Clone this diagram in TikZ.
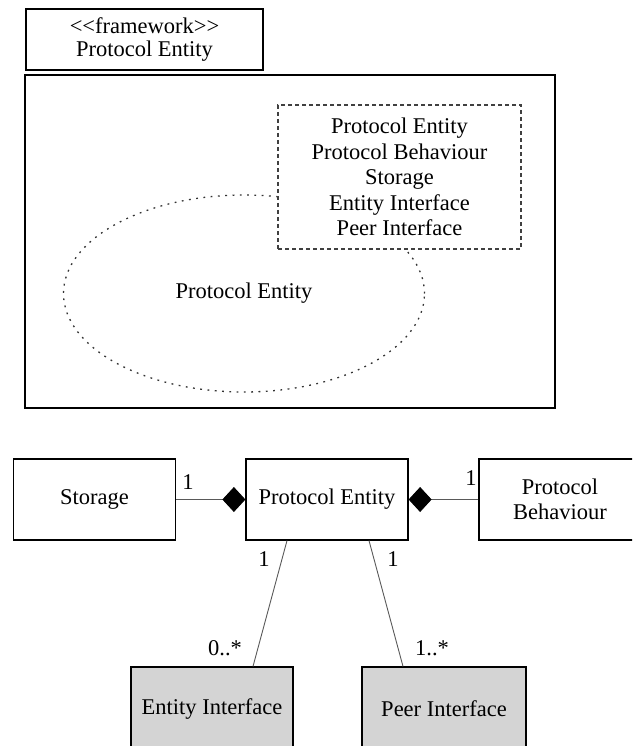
\documentclass[tikz,border=0pt]{standalone}
\usepackage{fontspec}
\setmainfont{Liberation Serif}
\usetikzlibrary{shapes.geometric,arrows.meta}
\tikzset{
  box/.style={draw,line width=1.2pt,minimum width=162pt,minimum height=81pt,align=center,inner sep=2pt},
  ifbox/.style={box,fill=black!17,minimum height=84pt},
  link/.style={draw=black!65,line width=0.9pt},
  comp/.style={link,-{Diamond[length=23pt,width=25pt,black]}},
  mult/.style={inner sep=0pt}
}
\begin{document}
\begin{tikzpicture}[x=1pt,y=-1pt,font=\fontsize{22.5}{25.5}\selectfont]
\clip (0,0) rectangle (632,746);
\node[draw,line width=2pt,minimum width=237pt,minimum height=61pt,align=center,font=\fontsize{22.5}{23}\selectfont] (title) at (144.5,39.5) {\textless\kern0pt\textless\kern0pt framework\kern0pt\textgreater\kern0pt\textgreater\\Protocol Entity};
\node[draw,line width=1.5pt,minimum width=530pt,minimum height=333pt] (frame) at (290,241.5) {};
\node[draw=black!80,ellipse,dash pattern=on 1.8pt off 5.5pt,line width=1.3pt,minimum width=361pt,minimum height=197pt] (pe) at (244,293.5) {Protocol Entity};
\node[draw=black!75,dash pattern=on 4pt off 3pt,line width=1.2pt,fill=white,minimum width=243pt,minimum height=144pt,align=center] (parts) at (399.5,177) {Protocol Entity\\Protocol Behaviour\\Storage\\Entity Interface\\Peer Interface};
\node[box] (storage) at (94.5,499.5) {Storage};
\node[box] (entity) at (327,499.5) {Protocol Entity};
\node[box] (behaviour) at (560,499.5) {Protocol\\Behaviour};
\node[ifbox] (entityif) at (212,709) {Entity Interface};
\node[ifbox,minimum width=164pt] (peerif) at (444,709) {Peer Interface};
\draw[comp] (storage.east) -- (entity.west);
\draw[comp] (behaviour.west) -- (entity.east);
\draw[link] ([xshift=-40pt]entity.south) -- ([xshift=41pt]entityif.north);
\draw[link] ([xshift=42pt]entity.south) -- ([xshift=-41pt]peerif.north);
\node[mult] (m1) at (188,482) {1};
\node[mult] (m2) at (471,478) {1};
\node[mult] (m3) at (264,559) {1};
\node[mult] (m4) at (393,559) {1};
\node[mult] (m5) at (225,648) {0..*};
\node[mult] (m6) at (432,648) {1..*};
\end{tikzpicture}
\end{document}
